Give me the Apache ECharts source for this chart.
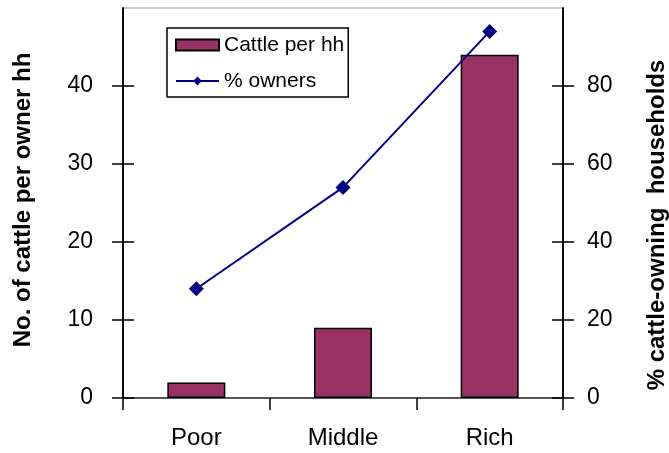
<!DOCTYPE html>
<html><head><meta charset="utf-8">
<script src="https://cdn.jsdelivr.net/npm/echarts@6/dist/echarts.min.js"></script>
<style>html,body{margin:0;padding:0;background:#fff}#c{width:669px;height:453px}</style>
</head><body><div id="c"></div>
<script>
const categories = ['Poor', 'Middle', 'Rich'];
const cattlePerHH = [2, 9, 44];
const pctOwners = [28, 54, 94];
const leftTicks = [0, 10, 20, 30, 40];
const rightTicks = [0, 20, 40, 60, 80];

const font = 'Liberation Sans, Arial, sans-serif';
const chart = echarts.init(document.getElementById('c'));
const yBase = (pos, max, interval, ticks, name, gap, inside, showLabel, margin, namePad) => ({
  type: 'value', position: pos, min: 0, max: max, interval: interval,
  name: showLabel ? name : '', nameLocation: 'middle', nameGap: gap, nameRotate: 90,
  nameTextStyle: {fontFamily: font, fontSize: 24, fontWeight: 'bold', color: '#000', padding: namePad || 0},
  axisLine: {show: true, lineStyle: {color: '#000', width: 1.5}},
  axisTick: {show: true, inside: inside, length: 11, customValues: ticks, lineStyle: {color: '#000', width: 1.5}},
  axisLabel: {show: showLabel, customValues: ticks, fontFamily: font, fontSize: 23, color: '#000', margin: margin},
  splitLine: {show: false}
});
chart.setOption({
  animation: false,
  grid: {left: 123, right: 106, top: 8, bottom: 55, show: true, borderColor: '#999', borderWidth: 1, outerBoundsMode: 'none'},
  legend: {
    orient: 'vertical', left: 167, top: 28, padding: [6, 4, 5, 8],
    borderColor: '#000', borderWidth: 1.5, backgroundColor: '#fff',
    itemWidth: 43, itemHeight: 11, itemGap: 14,
    textStyle: {fontFamily: font, fontSize: 21, lineHeight: 22, color: '#000'},
    data: [{name: 'Cattle per hh', icon: 'rect'}, {name: '% owners'}]
  },
  xAxis: {
    type: 'category', data: categories, boundaryGap: true,
    axisLine: {lineStyle: {color: '#555', width: 2}},
    axisTick: {show: true, length: 12, alignWithLabel: false, lineStyle: {color: '#000', width: 1.5}},
    axisLabel: {fontFamily: font, fontSize: 24, color: '#000', margin: 28}
  },
  yAxis: [
    yBase('left', 50, 10, leftTicks, 'No. of cattle per owner hh', 88, false, true, 30, [0, 0, 0, 6]),
    yBase('right', 100, 20, rightTicks, '% cattle-owning  households', 82, false, true, 24, [0, 44, 0, 0]),
    yBase('left', 50, 10, leftTicks, '', 0, true, false, 0),
    yBase('right', 100, 20, rightTicks, '', 0, true, false, 0)
  ],
  series: [
    {name: 'Cattle per hh', type: 'bar', yAxisIndex: 0, data: cattlePerHH, barWidth: 58,
     itemStyle: {color: '#993366', borderColor: '#000', borderWidth: 1.5}},
    {name: '% owners', type: 'line', yAxisIndex: 1, data: pctOwners,
     symbol: 'diamond', symbolSize: 15,
     lineStyle: {color: '#000080', width: 2}, itemStyle: {color: '#000080'}}
  ]
});
</script></body></html>
